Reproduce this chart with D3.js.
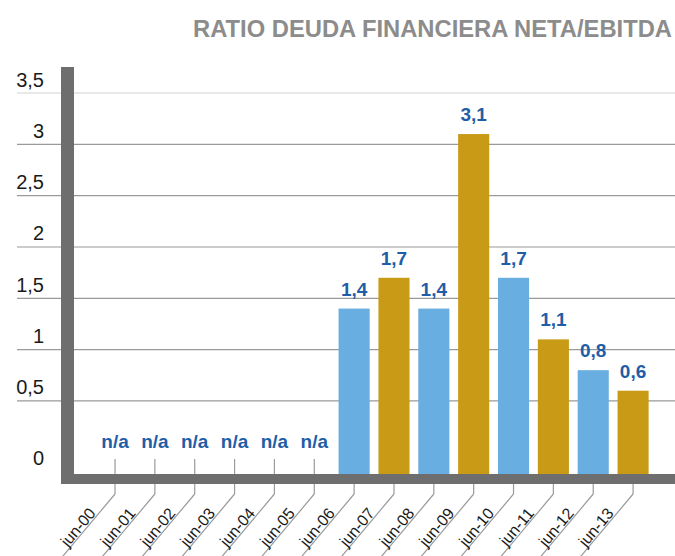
<!DOCTYPE html>
<html>
<head>
<meta charset="utf-8">
<script src="https://cdn.jsdelivr.net/npm/d3@7/dist/d3.min.js"></script>
<style>
  html, body { margin: 0; padding: 0; background: #fff; }
  svg { display: block; }
</style>
</head>
<body>
<svg id="chart" width="675" height="556"></svg>
<script>
// ---- data ----
const title = "RATIO DEUDA FINANCIERA NETA/EBITDA";
const categories = ["jun-00","jun-01","jun-02","jun-03","jun-04","jun-05","jun-06",
                    "jun-07","jun-08","jun-09","jun-10","jun-11","jun-12","jun-13"];
const values = [null, null, null, null, null, null, 1.4, 1.7, 1.4, 3.1, 1.7, 1.1, 0.8, 0.6];
const yTicks = [0, 0.5, 1, 1.5, 2, 2.5, 3, 3.5];
const yTickLabels = ["0", "0,5", "1", "1,5", "2", "2,5", "3", "3,5"];
const naLabel = "n/a";

// ---- styles ----
const blue = "#68aee0", gold = "#c99a16", labelBlue = "#1f5ea6";
const axisGray = "#6e6e6e", gridGray = "#9a9a9a";

const svg = d3.select("#chart");

const y = d3.scaleLinear().domain([0, 3.5]).range([452.3, 93]);
const x = d3.scaleBand().domain(categories).range([95.1, 653.0])
  .paddingInner(0.22).paddingOuter(0.11);

const axisBottomY = 474;   // top of horizontal axis bar
const axisBarH = 10;
const vBarX = 61, vBarW = 13, vBarTop = 67;

// title (font size fitted so its width matches the reference)
const t = svg.append("text")
  .attr("x", 672).attr("y", 37)
  .attr("text-anchor", "end")
  .attr("font-family", "'Liberation Sans Narrow', 'Liberation Sans', sans-serif")
  .attr("font-weight", "bold")
  .attr("font-size", 25)
  .attr("fill", "#8c8c8c")
  .text(title);
const tw = t.node().getComputedTextLength();
if (tw > 0) t.attr("font-size", Math.min(27, 25 * 479 / tw));

// gridlines (no line at 0)
svg.append("g").selectAll("line")
  .data(yTicks.filter(v => v > 0))
  .join("line")
  .attr("x1", 17).attr("x2", 675)
  .attr("y1", d => y(d)).attr("y2", d => y(d))
  .attr("stroke", d => d === 3.5 ? "#d2d2d2" : gridGray)
  .attr("stroke-width", 1.2);

// y labels
svg.append("g").selectAll("text")
  .data(yTicks)
  .join("text")
  .attr("x", 44)
  .attr("y", d => d === 0 ? y(0) + 13 : y(d) - 6.5)
  .attr("text-anchor", "end")
  .attr("font-family", "'Liberation Sans', Arial, sans-serif")
  .attr("font-size", 20)
  .attr("fill", "#1a1a1a")
  .text((d, i) => yTickLabels[i]);

// tick marks + diagonal leader lines
const ang = 50 * Math.PI / 180;
const tickTop = 459, tickBot = 494;
const tg = svg.append("g");
categories.forEach(c => {
  const cx = x(c) + x.bandwidth() / 2;
  tg.append("line")
    .attr("x1", cx).attr("x2", cx).attr("y1", tickTop).attr("y2", tickBot)
    .attr("stroke", gridGray).attr("stroke-width", 1.2);
  tg.append("line")
    .attr("x1", cx).attr("y1", tickBot)
    .attr("x2", cx - 140 * Math.cos(ang)).attr("y2", tickBot + 140 * Math.sin(ang))
    .attr("stroke", gridGray).attr("stroke-width", 1.2);
  const d = 27;
  tg.append("text")
    .attr("transform", `translate(${cx - d * Math.cos(ang)},${tickBot + d * Math.sin(ang)}) rotate(-50)`)
    .attr("text-anchor", "end")
    .attr("dy", -1.5)
    .attr("font-family", "'Liberation Sans', Arial, sans-serif")
    .attr("font-size", 16)
    .attr("fill", "#1a1a1a")
    .text(c);
});

// bars
const barData = categories.map((c, i) => ({ c, v: values[i], i }));
svg.append("g").selectAll("rect")
  .data(barData.filter(d => d.v !== null))
  .join("rect")
  .attr("x", d => x(d.c))
  .attr("width", x.bandwidth())
  .attr("y", d => y(d.v))
  .attr("height", d => axisBottomY - y(d.v))
  .attr("fill", d => d.i % 2 === 0 ? blue : gold);

// value labels
svg.append("g").selectAll("text")
  .data(barData)
  .join("text")
  .attr("x", d => x(d.c) + x.bandwidth() / 2)
  .attr("y", d => d.v === null ? y(0) - 4 : y(d.v) - 13)
  .attr("text-anchor", "middle")
  .attr("font-family", "'Liberation Sans Narrow', 'Liberation Sans', sans-serif")
  .attr("font-weight", "bold")
  .attr("font-size", 19)
  .attr("fill", labelBlue)
  .text(d => d.v === null ? naLabel : String(d.v).replace(".", ","));

// axis bars
svg.append("rect")
  .attr("x", vBarX).attr("y", vBarTop)
  .attr("width", vBarW).attr("height", axisBottomY + axisBarH - vBarTop)
  .attr("fill", axisGray);
svg.append("rect")
  .attr("x", vBarX).attr("y", axisBottomY)
  .attr("width", 675 - vBarX).attr("height", axisBarH)
  .attr("fill", axisGray);
</script>
</body>
</html>
